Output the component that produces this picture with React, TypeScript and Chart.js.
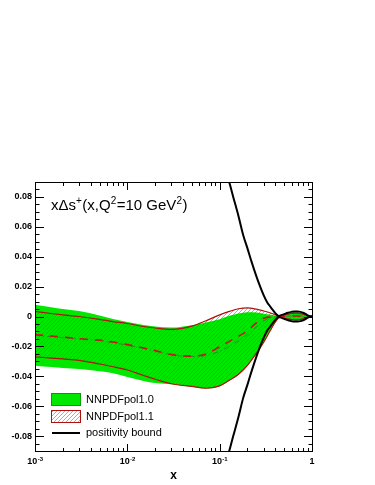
import React, { useEffect, useRef } from 'react';
import { Chart, registerables } from 'chart.js';

Chart.register(...registerables);

// ---- data ----
const X_VALUES = [0.001, 0.0015, 0.002, 0.003, 0.005, 0.007, 0.01, 0.015, 0.02, 0.03, 0.05, 0.07, 0.1, 0.13, 0.16, 0.2, 0.25, 0.3, 0.35, 0.4, 0.45, 0.5, 0.55, 0.6, 0.65, 0.7, 0.75, 0.8, 0.85, 0.9, 0.95, 1.0];

// NNPDFpol1.0 band (green)
const POL10_HI = [0.0079, 0.0062, 0.0050, 0.0037, 0.0007, -0.0017, -0.0037, -0.0057, -0.0067, -0.0074, -0.0058, -0.0040, -0.0018, 0.0006, 0.0020, 0.0028, 0.0026, 0.0019, 0.0013, 0.0007, 0.0002, 0.0012, 0.0019, 0.0024, 0.0026, 0.0026, 0.0023, 0.0018, 0.0012, 0.0006, 0.0002, 0];
const POL10_LO = [-0.0329, -0.0338, -0.0344, -0.0352, -0.0366, -0.0379, -0.0405, -0.0431, -0.0445, -0.0454, -0.0470, -0.0482, -0.0466, -0.0425, -0.0389, -0.0329, -0.0248, -0.0174, -0.0101, -0.0040, -0.0003, -0.0012, -0.0019, -0.0024, -0.0026, -0.0026, -0.0023, -0.0018, -0.0012, -0.0006, -0.0002, 0];
const POL10_CV = [-0.0127, -0.0136, -0.0142, -0.0151, -0.0162, -0.0175, -0.0192, -0.0215, -0.0232, -0.0256, -0.0268, -0.0262, -0.0232, -0.0196, -0.0162, -0.0122, -0.0068, -0.0030, -0.0010, -0.0002, 0.0001, 0.0002, 0.0003, 0.0003, 0.0003, 0.0003, 0.0002, 0.0002, 0.0001, 0, 0, 0];

// NNPDFpol1.1 band (red hatched)
const POL11_HI = [0.0034, 0.0020, 0.0011, 0.0000, -0.0019, -0.0034, -0.0047, -0.0067, -0.0077, -0.0086, -0.0064, -0.0030, 0.0011, 0.0036, 0.0052, 0.0058, 0.0049, 0.0037, 0.0025, 0.0013, 0.0003, 0.0010, 0.0016, 0.0020, 0.0022, 0.0022, 0.0019, 0.0015, 0.0010, 0.0005, 0.0002, 0];
const POL11_LO = [-0.0270, -0.0278, -0.0284, -0.0293, -0.0318, -0.0336, -0.0358, -0.0395, -0.0420, -0.0450, -0.0468, -0.0480, -0.0464, -0.0423, -0.0387, -0.0327, -0.0246, -0.0172, -0.0099, -0.0038, -0.0002, -0.0010, -0.0016, -0.0020, -0.0022, -0.0022, -0.0019, -0.0015, -0.0010, -0.0005, -0.0002, 0];
const POL11_CV = [-0.0121, -0.0131, -0.0138, -0.0148, -0.0158, -0.0171, -0.0188, -0.0211, -0.0228, -0.0255, -0.0265, -0.0252, -0.0203, -0.0163, -0.0132, -0.0096, -0.0042, -0.0012, -0.0003, 0.0001, 0.0002, 0.0002, 0.0003, 0.0003, 0.0003, 0.0003, 0.0002, 0.0002, 0.0001, 0, 0, 0];

// positivity bound (upper = +bound, lower = -bound)
const POS_X = [0.1, 0.11, 0.12, 0.13, 0.14, 0.16, 0.18, 0.2, 0.22, 0.25, 0.27, 0.3, 0.33, 0.35, 0.37, 0.4, 0.42, 0.43, 0.45, 0.5, 0.55, 0.6, 0.65, 0.7, 0.75, 0.8, 0.85, 0.9, 0.95, 1.0];
const POS_BOUND = [0.1154, 0.105, 0.0956, 0.0876, 0.0802, 0.0671, 0.0544, 0.0456, 0.0372, 0.0268, 0.0211, 0.0141, 0.0090, 0.0070, 0.0049, 0.0023, 0.0010, 0.0003, 0.0006, 0.0016, 0.0025, 0.0031, 0.0034, 0.0034, 0.0031, 0.0025, 0.0017, 0.0008, 0.0002, 0];

const Y_TICKS = [-0.08, -0.06, -0.04, -0.02, 0, 0.02, 0.04, 0.06, 0.08];
const Y_TICK_LABELS = ['-0.08', '-0.06', '-0.04', '-0.02', '0', '0.02', '0.04', '0.06', '0.08'];
const X_TICKS = [0.001, 0.01, 0.1, 1];
const X_TICK_BASES = ['10', '10', '10', '1'];
const X_TICK_EXPONENTS = ['-3', '-2', '-1', ''];
const X_TITLE = 'x';
const LEGEND_LABELS = ['NNPDFpol1.0', 'NNPDFpol1.1', 'positivity bound'];
// title pieces: [text, isSuperscript]
const TITLE_PARTS: [string, boolean][] = [['x\u0394s', false], ['+', true], ['(x,Q', false], ['2', true], ['=10 GeV', false], ['2', true], [')', false]];

const FONT = '"Liberation Sans", Arial, Helvetica, sans-serif';
const GREEN = '#00e800';
const DARK_RED = '#b01010';
const HATCH_RED = 'rgba(255,40,40,0.55)';

function makeHatch(): CanvasPattern | string {
  const n = 4;
  const c = document.createElement('canvas');
  c.width = n;
  c.height = n;
  const g = c.getContext('2d');
  if (!g) return 'rgba(240,60,60,0.3)';
  g.fillStyle = HATCH_RED;
  for (let i = 0; i < n; i++) g.fillRect(i, n - 1 - i, 1, 1);
  return g.createPattern(c, 'repeat') || 'rgba(240,60,60,0.3)';
}

const pts = (xs: number[], ys: number[], sign = 1) => xs.map((x, i) => ({ x, y: sign * ys[i] }));

const decorPlugin = {
  id: 'decor',
  afterDraw(chart: any) {
    const { ctx, chartArea, scales } = chart;
    const { left, right, top, bottom } = chartArea;
    const xs = scales.x;
    const ys = scales.y;
    ctx.save();
    ctx.strokeStyle = '#000';
    ctx.lineWidth = 1;
    // frame
    ctx.strokeRect(left + 0.5, top + 0.5, right - left, bottom - top);
    // y ticks (major every 0.02, minor every 0.005) on both sides
    ctx.beginPath();
    for (let k = -17; k <= 17; k++) {
      const v = k * 0.005;
      const len = k % 4 === 0 ? 9 : 4.5;
      const py = Math.round(ys.getPixelForValue(v)) + 0.5;
      ctx.moveTo(left, py);
      ctx.lineTo(left + len, py);
      ctx.moveTo(right + 1, py);
      ctx.lineTo(right + 1 - len, py);
    }
    // x ticks (log) bottom and top
    for (let d = -3; d <= -1; d++) {
      for (let k = 1; k <= 9; k++) {
        if (d === -3 && k === 1) continue;
        const v = k * Math.pow(10, d);
        const len = k === 1 ? 8 : 4;
        const px = Math.round(xs.getPixelForValue(v)) + 0.5;
        ctx.moveTo(px, bottom + 1);
        ctx.lineTo(px, bottom + 1 - len);
        ctx.moveTo(px, top);
        ctx.lineTo(px, top + len);
      }
    }
    ctx.stroke();

    // x tick labels with exponents
    ctx.fillStyle = '#000';
    ctx.textBaseline = 'alphabetic';
    ctx.textAlign = 'left';
    X_TICKS.forEach((v, i) => {
      const px = xs.getPixelForValue(v);
      ctx.font = `bold 9px ${FONT}`;
      const w1 = ctx.measureText(X_TICK_BASES[i]).width;
      ctx.font = `bold 6px ${FONT}`;
      const w2 = X_TICK_EXPONENTS[i] ? ctx.measureText(X_TICK_EXPONENTS[i]).width : 0;
      const x0 = px - (w1 + w2) / 2;
      ctx.font = `bold 9px ${FONT}`;
      ctx.fillText(X_TICK_BASES[i], x0, 464);
      if (X_TICK_EXPONENTS[i]) {
        ctx.font = `bold 6px ${FONT}`;
        ctx.fillText(X_TICK_EXPONENTS[i], x0 + w1 + 0.3, 461);
      }
    });

    // x axis title
    ctx.font = `bold 12px ${FONT}`;
    ctx.textAlign = 'center';
    ctx.textBaseline = 'middle';
    ctx.fillText(X_TITLE, (left + right) / 2, 476);

    // plot title
    ctx.textAlign = 'left';
    ctx.textBaseline = 'alphabetic';
    let tx = 51;
    TITLE_PARTS.forEach(([t, sup]) => {
      ctx.font = sup ? `10px ${FONT}` : `15px ${FONT}`;
      ctx.fillText(t, tx, sup ? 204 : 210);
      tx += ctx.measureText(t).width + (sup ? 0.5 : 0);
    });

    // legend
    const bx = 51;
    const bw = 29;
    ctx.fillStyle = GREEN;
    ctx.fillRect(bx, 393, bw, 12);
    ctx.strokeStyle = '#00a000';
    ctx.strokeRect(bx + 0.5, 393.5, bw, 12);
    ctx.fillStyle = '#fff';
    ctx.fillRect(bx, 410, bw, 12);
    ctx.fillStyle = chart.$hatch || HATCH_RED;
    ctx.fillRect(bx, 410, bw, 12);
    ctx.strokeStyle = DARK_RED;
    ctx.strokeRect(bx + 0.5, 410.5, bw, 12);
    ctx.strokeStyle = '#000';
    ctx.lineWidth = 2;
    ctx.beginPath();
    ctx.moveTo(bx + 1, 433);
    ctx.lineTo(bx + bw, 433);
    ctx.stroke();
    ctx.fillStyle = '#000';
    ctx.font = `11px ${FONT}`;
    ctx.textBaseline = 'middle';
    ctx.fillText(LEGEND_LABELS[0], 86, 399.5);
    ctx.fillText(LEGEND_LABELS[1], 86, 416.5);
    ctx.fillText(LEGEND_LABELS[2], 86, 433);
    ctx.restore();
  },
};

export default function App() {
  const ref = useRef<HTMLCanvasElement | null>(null);
  useEffect(() => {
    document.body.style.margin = '0';
    const canvas = ref.current;
    if (!canvas) return;
    const hatch = makeHatch();
    const line = (data: any[], extra: any) => ({
      data,
      pointRadius: 0,
      cubicInterpolationMode: 'monotone',
      fill: false,
      ...extra,
    });
    const chart = new Chart(canvas, {
      type: 'line',
      data: {
        datasets: [
          line(pts(X_VALUES, POL10_HI), { label: 'NNPDFpol1.0 hi', fill: '+1', backgroundColor: GREEN, borderColor: 'rgba(0,0,0,0)', borderWidth: 0, order: 10 }),
          line(pts(X_VALUES, POL10_LO), { label: 'NNPDFpol1.0 lo', borderColor: 'rgba(0,0,0,0)', borderWidth: 0, order: 9 }),
          line(pts(X_VALUES, POL11_HI), { label: 'NNPDFpol1.1 hi', fill: '+1', backgroundColor: hatch, borderColor: DARK_RED, borderWidth: 1.2, order: 8 }),
          line(pts(X_VALUES, POL11_LO), { label: 'NNPDFpol1.1 lo', borderColor: DARK_RED, borderWidth: 1.2, order: 7 }),
          line(pts(X_VALUES, POL10_CV), { label: 'NNPDFpol1.0', borderColor: '#2c8a2c', borderWidth: 1, borderDash: [5, 3, 1, 3], order: 6 }),
          line(pts(X_VALUES, POL11_CV), { label: 'NNPDFpol1.1', borderColor: '#c01818', borderWidth: 1.6, borderDash: [8, 7], order: 5 }),
          line(pts(POS_X, POS_BOUND, 1), { label: 'positivity bound', borderColor: '#000', borderWidth: 2, order: 2 }),
          line(pts(POS_X, POS_BOUND, -1), { label: 'positivity bound (lower)', borderColor: '#000', borderWidth: 2, order: 1 }),
        ],
      },
      options: {
        responsive: false,
        animation: false,
        devicePixelRatio: 1,
        events: [],
        layout: { padding: { top: 182, right: 63, left: 0, bottom: 0 } },
        plugins: { legend: { display: false }, tooltip: { enabled: false }, title: { display: false } },
        scales: {
          x: {
            type: 'logarithmic',
            min: 0.001,
            max: 1,
            grid: { display: false, drawTicks: false },
            border: { display: false },
            ticks: { display: false },
            afterFit: (s: any) => { s.height = 34; },
          },
          y: {
            type: 'linear',
            min: -0.09,
            max: 0.09,
            grid: { display: false, drawTicks: false },
            border: { display: false },
            afterBuildTicks: (s: any) => { s.ticks = Y_TICKS.map((v) => ({ value: v })); },
            ticks: {
              padding: 3,
              color: '#000',
              font: { family: FONT, size: 9, weight: 'bold' },
              autoSkip: false,
              callback: (v: any) => {
                const i = Y_TICKS.findIndex((t) => Math.abs(t - Number(v)) < 1e-9);
                return i >= 0 ? Y_TICK_LABELS[i] : '';
              },
            },
            afterFit: (s: any) => { s.width = 35; },
          },
        },
      } as any,
      plugins: [decorPlugin],
    });
    (chart as any).$hatch = hatch;
    chart.draw();
    return () => chart.destroy();
  }, []);
  return (
    <div style={{ width: 375, height: 485, position: 'relative', background: '#fff' }}>
      <canvas ref={ref} width={375} height={485} style={{ display: 'block' }} />
    </div>
  );
}
